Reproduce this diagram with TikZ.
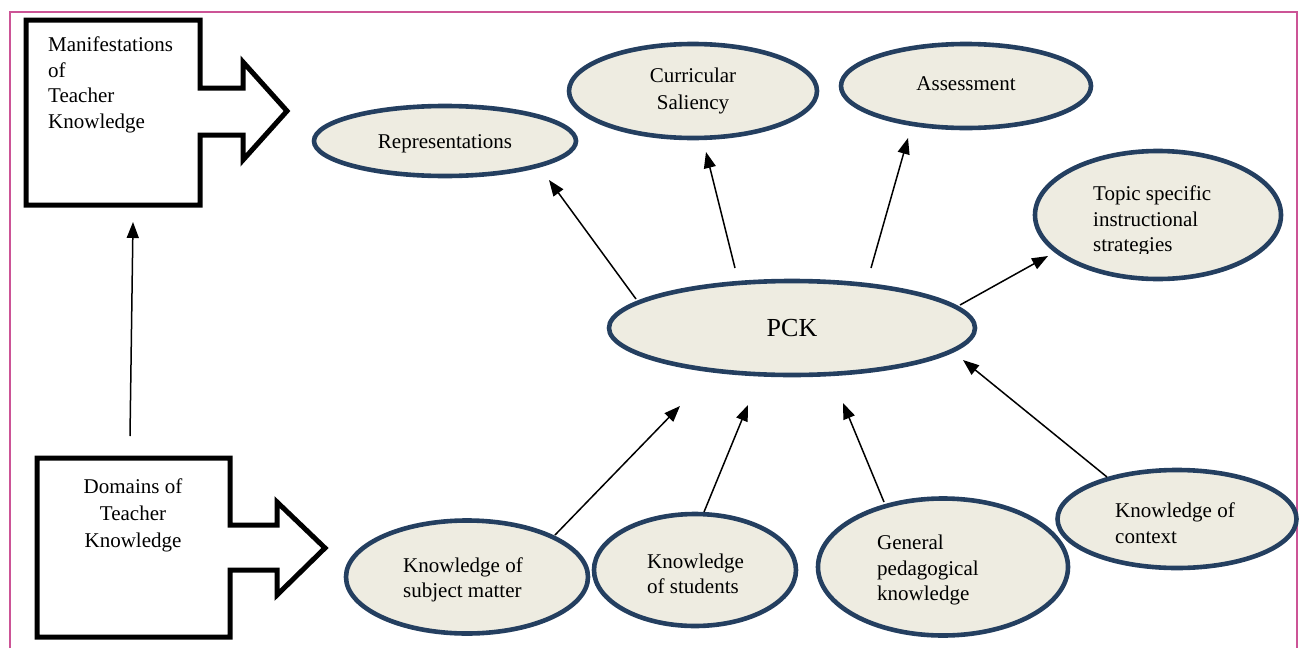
\documentclass[tikz,border=0pt]{standalone}
\usepackage{fontspec}
\setmainfont{Liberation Serif}
\usetikzlibrary{arrows.meta,shapes.geometric}
\definecolor{navy}{RGB}{36,63,96}
\definecolor{cream}{RGB}{238,236,225}
\definecolor{framepink}{RGB}{204,84,150}
\tikzset{
 bubble/.style={ellipse,draw=navy,fill=cream,line width=4.6pt,inner sep=0pt},
 lbl/.style={font=\fontsize{21}{25.5}\selectfont,inner sep=0pt,align=left},
 clbl/.style={lbl,align=center},
 conn/.style={line width=1.5pt,-{Triangle[length=16pt,width=12pt]}},
 blockarrow/.style={line width=5pt,draw=black,fill=white,line join=miter},
}
\begin{document}
\begin{tikzpicture}[x=1pt,y=-1pt]
\useasboundingbox (0,0) rectangle (1304,648);
\draw[framepink,line width=2pt] (10,648)--(10,12)--(1297,12)--(1297,648);

% block arrows
\draw[blockarrow] (26,20)--(200,20)--(200,88)--(243,88)--(243,62)--(287,111)--(243,160)--(243,135)--(200,135)--(200,205)--(26,205)--cycle;
\node[lbl,anchor=west] (manif) at (48,85) {Manifestations\\of\\Teacher\\Knowledge};
\draw[blockarrow] (37,458)--(230,458)--(230,525)--(277,525)--(277,502)--(325,548)--(277,595)--(277,570)--(230,570)--(230,637)--(37,637)--cycle;
\node[clbl,font=\fontsize{21}{27}\selectfont] (domains) at (133,515) {Domains of\\Teacher\\Knowledge};

% ellipses
\node[bubble,minimum width=262,minimum height=70] (rep) at (445,141) {};
\node[bubble,minimum width=248,minimum height=94] (cur) at (693,91) {};
\node[bubble,minimum width=250,minimum height=84] (ass) at (966,86) {};
\node[bubble,minimum width=246,minimum height=128] (top) at (1158,215) {};
\node[bubble,minimum width=366,minimum height=94] (pck) at (792,328) {};
\node[bubble,minimum width=250,minimum height=137] (gen) at (943,567) {};
\node[bubble,minimum width=239,minimum height=98] (ctx) at (1177,519) {};
\node[bubble,minimum width=242,minimum height=113] (sub) at (467,577) {};
\node[bubble,minimum width=202,minimum height=112] (stu) at (695,570) {};

% labels
\node[clbl] (rept) at (445,144) {Representations};
\node[clbl,font=\fontsize{21}{27}\selectfont] (curt) at (693,91) {Curricular\\Saliency};
\node[clbl] (asst) at (966,84) {Assessment};
\begin{scope}
\clip (1080,170) rectangle (1260,253);
\node[lbl,anchor=west] (topt) at (1093,221) {Topic specific\\instructional\\strategies};
\end{scope}
\node[clbl,font=\fontsize{26}{30}\selectfont] (pckt) at (792,328) {PCK};
\node[lbl,anchor=west] (ctxt) at (1115,523) {Knowledge of\\context};
\node[lbl,anchor=west] (subt) at (403,580) {Knowledge of\\subject matter};
\node[lbl,anchor=west] (stut) at (647,574) {Knowledge\\of students};
\node[lbl,anchor=west] (gent) at (877,570) {General\\pedagogical\\knowledge};

% connector ends
\coordinate (e1) at (549,180);
\coordinate (e2) at (706,152);
\coordinate (e3) at (908,138);
\coordinate (e4) at (1048,256);
\coordinate (e5) at (680,406);
\coordinate (e6) at (748,405);
\coordinate (e7) at (843,403);
\coordinate (e8) at (963,360);
\coordinate (e9) at (133,222);
\coordinate (s1) at (636,299);
\coordinate (s2) at (735,268);
\coordinate (s3) at (871,268);
\coordinate (s4) at (960,305);
\coordinate (s5) at (555,535);
\coordinate (s6) at (704,512);
\coordinate (s7) at (884,502);
\coordinate (s8) at (1107,477);
\coordinate (s9) at (130,436);

\draw[conn] (s1) -- (e1);
\draw[conn] (s2) -- (e2);
\draw[conn] (s3) -- (e3);
\draw[conn] (s4) -- (e4);
\draw[conn] (s5) -- (e5);
\draw[conn] (s6) -- (e6);
\draw[conn] (s7) -- (e7);
\draw[conn] (s8) -- (e8);
\draw[conn] (s9) -- (e9);
\end{tikzpicture}
\end{document}
